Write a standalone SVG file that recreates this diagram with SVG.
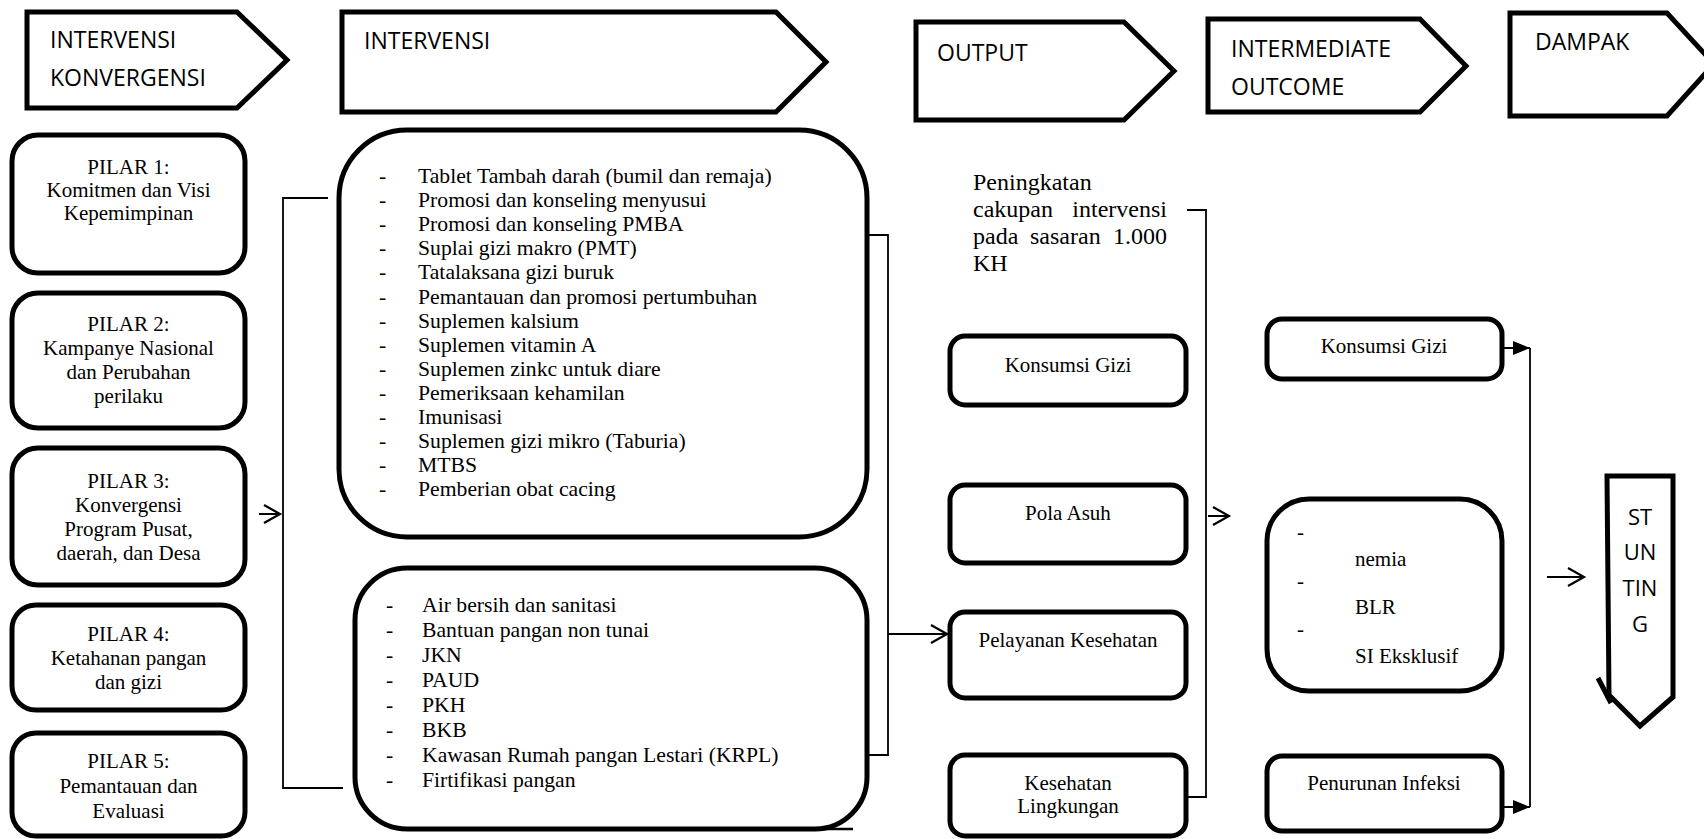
<svg xmlns="http://www.w3.org/2000/svg" width="1704" height="839" viewBox="0 0 1704 839">
<defs>
<style>
.hdr{fill:#fff;stroke:#000;stroke-width:5;stroke-linejoin:miter}
.box{fill:#fff;stroke:#000;stroke-width:5}
.ht{font-family:"Open Sans","Liberation Sans",sans-serif;font-size:23px;fill:#000}
.st{font-family:"Open Sans","Liberation Sans",sans-serif;font-size:22px;fill:#000;text-anchor:middle}
.t{font-family:"Liberation Serif","Times New Roman",serif;font-size:21px;fill:#000}
.l{font-family:"Liberation Serif","Times New Roman",serif;font-size:21.7px;fill:#000}
.c{text-anchor:middle}
.p{font-family:"Liberation Serif","Times New Roman",serif;font-size:24px;fill:#000}
.ln{fill:none;stroke:#000;stroke-width:1.8}
.ar{fill:none;stroke:#000;stroke-width:2}
</style>
<marker id="open" markerUnits="userSpaceOnUse" markerWidth="22" markerHeight="24" refX="19" refY="11" orient="auto">
<path d="M3,2 L19,11 L3,20" fill="none" stroke="#000" stroke-width="2.2"/>
</marker>
<marker id="fill" markerUnits="userSpaceOnUse" markerWidth="18" markerHeight="16" refX="17" refY="8" orient="auto">
<path d="M0,1 L17,8 L0,15 Z" fill="#000"/>
</marker>
</defs>

<g id="hdr-konvergensi">
<polygon class="hdr" points="27,12 237,12 287,60 237,108 27,108"/>
<text class="ht" x="50" y="48">INTERVENSI</text>
<text class="ht" x="50" y="86">KONVERGENSI</text>
</g>
<g id="hdr-intervensi">
<polygon class="hdr" points="342,12 776,12 826,62 776,112 342,112"/>
<text class="ht" x="364" y="49">INTERVENSI</text>
</g>
<g id="hdr-output">
<polygon class="hdr" points="916,22 1124,22 1174,71 1124,120 916,120"/>
<text class="ht" x="937" y="61">OUTPUT</text>
</g>
<g id="hdr-intermediate">
<polygon class="hdr" points="1208,19 1420,19 1466,66 1420,112 1208,112"/>
<text class="ht" x="1231" y="57">INTERMEDIATE</text>
<text class="ht" x="1231" y="95">OUTCOME</text>
</g>
<g id="hdr-dampak">
<polygon class="hdr" points="1510,13 1667,13 1714,64 1667,116 1510,116"/>
<text class="ht" x="1535" y="50">DAMPAK</text>
</g>

<g id="pilar1">
<rect class="box" x="12" y="135" width="233" height="138" rx="26"/>
<text class="t c" x="128.5" y="174">PILAR 1:</text>
<text class="t c" x="128.5" y="197">Komitmen dan Visi</text>
<text class="t c" x="128.5" y="220">Kepemimpinan</text>
</g>
<g id="pilar2">
<rect class="box" x="12" y="293" width="233" height="135" rx="26"/>
<text class="t c" x="128.5" y="331">PILAR 2:</text>
<text class="t c" x="128.5" y="355">Kampanye Nasional</text>
<text class="t c" x="128.5" y="379">dan Perubahan</text>
<text class="t c" x="128.5" y="403">perilaku</text>
</g>
<g id="pilar3">
<rect class="box" x="12" y="448" width="233" height="137" rx="26"/>
<text class="t c" x="128.5" y="488">PILAR 3:</text>
<text class="t c" x="128.5" y="512">Konvergensi</text>
<text class="t c" x="128.5" y="536">Program Pusat,</text>
<text class="t c" x="128.5" y="560">daerah, dan Desa</text>
</g>
<g id="pilar4">
<rect class="box" x="12" y="605" width="233" height="105" rx="24"/>
<text class="t c" x="128.5" y="641">PILAR 4:</text>
<text class="t c" x="128.5" y="665">Ketahanan pangan</text>
<text class="t c" x="128.5" y="689">dan gizi</text>
</g>
<g id="pilar5">
<rect class="box" x="12" y="733" width="233" height="103" rx="24"/>
<text class="t c" x="128.5" y="768">PILAR 5:</text>
<text class="t c" x="128.5" y="793">Pemantauan dan</text>
<text class="t c" x="128.5" y="818">Evaluasi</text>
</g>

<g id="intervensi-spesifik">
<rect class="box" x="339" y="130" width="528" height="407" rx="68"/>
<g class="l">
<text x="379" y="183">-</text><text x="418" y="183">Tablet Tambah darah (bumil dan remaja)</text>
<text x="379" y="207">-</text><text x="418" y="207">Promosi dan konseling menyusui</text>
<text x="379" y="231">-</text><text x="418" y="231">Promosi dan konseling PMBA</text>
<text x="379" y="255">-</text><text x="418" y="255">Suplai gizi makro (PMT)</text>
<text x="379" y="279">-</text><text x="418" y="279">Tatalaksana gizi buruk</text>
<text x="379" y="304">-</text><text x="418" y="304">Pemantauan dan promosi pertumbuhan</text>
<text x="379" y="328">-</text><text x="418" y="328">Suplemen kalsium</text>
<text x="379" y="352">-</text><text x="418" y="352">Suplemen vitamin A</text>
<text x="379" y="376">-</text><text x="418" y="376">Suplemen zinkc untuk diare</text>
<text x="379" y="400">-</text><text x="418" y="400">Pemeriksaan kehamilan</text>
<text x="379" y="424">-</text><text x="418" y="424">Imunisasi</text>
<text x="379" y="448">-</text><text x="418" y="448">Suplemen gizi mikro (Taburia)</text>
<text x="379" y="472">-</text><text x="418" y="472">MTBS</text>
<text x="379" y="496">-</text><text x="418" y="496">Pemberian obat cacing</text>
</g>
</g>

<g id="intervensi-sensitif">
<rect class="box" x="355" y="568" width="512" height="261" rx="52"/>
<line x1="800" y1="829" x2="853" y2="829" stroke="#000" stroke-width="2.5"/>
<g class="l">
<text x="386" y="612">-</text><text x="422" y="612">Air bersih dan sanitasi</text>
<text x="386" y="637">-</text><text x="422" y="637">Bantuan pangan non tunai</text>
<text x="386" y="662">-</text><text x="422" y="662">JKN</text>
<text x="386" y="687">-</text><text x="422" y="687">PAUD</text>
<text x="386" y="712">-</text><text x="422" y="712">PKH</text>
<text x="386" y="737">-</text><text x="422" y="737">BKB</text>
<text x="386" y="762">-</text><text x="422" y="762">Kawasan Rumah pangan Lestari (KRPL)</text>
<text x="386" y="787">-</text><text x="422" y="787">Firtifikasi pangan</text>
</g>
</g>

<g id="output-cakupan">
<text class="p" x="973" y="190">Peningkatan</text>
<text class="p" x="973" y="217">cakupan</text>
<text class="p" x="1167" y="217" text-anchor="end">intervensi</text>
<text class="p" x="973" y="244">pada</text>
<text class="p" x="1030" y="244">sasaran</text>
<text class="p" x="1167" y="244" text-anchor="end">1.000</text>
<text class="p" x="973" y="271">KH</text>
</g>

<g id="out-konsumsi">
<rect class="box" x="950" y="336" width="236" height="69" rx="15"/>
<text class="t c" x="1068" y="372">Konsumsi Gizi</text>
</g>
<g id="out-polaasuh">
<rect class="box" x="950" y="485" width="236" height="78" rx="15"/>
<text class="t c" x="1068" y="520">Pola Asuh</text>
</g>
<g id="out-pelayanan">
<rect class="box" x="950" y="612" width="236" height="86" rx="15"/>
<text class="t c" x="1068" y="647">Pelayanan Kesehatan</text>
</g>
<g id="out-lingkungan">
<rect class="box" x="950" y="755" width="236" height="81" rx="15"/>
<text class="t c" x="1068" y="790">Kesehatan</text>
<text class="t c" x="1068" y="813">Lingkungan</text>
</g>

<g id="im-konsumsi">
<rect class="box" x="1267" y="319" width="235" height="60" rx="15"/>
<text class="t c" x="1384" y="353">Konsumsi Gizi</text>
</g>
<g id="im-anemia">
<rect class="box" x="1267" y="499" width="235" height="192" rx="42"/>
<text class="t" x="1297" y="539">-</text>
<text class="t" x="1355" y="566">nemia</text>
<text class="t" x="1297" y="588">-</text>
<text class="t" x="1355" y="614">BLR</text>
<text class="t" x="1297" y="636">-</text>
<text class="t" x="1355" y="663">SI Eksklusif</text>
</g>
<g id="im-infeksi">
<rect class="box" x="1267" y="756" width="235" height="75" rx="15"/>
<text class="t c" x="1384" y="790">Penurunan Infeksi</text>
</g>

<g id="stunting">
<polygon class="hdr" points="1607,476 1673,476 1673,697 1640,726 1609,695"/>
<line x1="1598" y1="678" x2="1611" y2="703" stroke="#000" stroke-width="5"/>
<text class="st" x="1640" y="525">ST</text>
<text class="st" x="1640" y="560">UN</text>
<text class="st" x="1640" y="596">TIN</text>
<text class="st" x="1640" y="632">G</text>
</g>

<g id="connectors">
<polyline class="ln" points="328,198 283,198 283,788 343,788"/>
<line class="ar" x1="259" y1="514" x2="280" y2="514" marker-end="url(#open)"/>
<polyline class="ln" points="868,235 888,235 888,755 868,755"/>
<line class="ar" x1="888" y1="634" x2="947" y2="634" marker-end="url(#open)"/>
<polyline class="ln" points="1187,210 1206,210 1206,797 1187,797"/>
<line class="ar" x1="1208" y1="516" x2="1229" y2="516" marker-end="url(#open)"/>
<line class="ln" x1="1530" y1="348" x2="1530" y2="807"/>
<line class="ar" x1="1503" y1="348" x2="1530" y2="348" marker-end="url(#fill)"/>
<line class="ar" x1="1503" y1="807" x2="1530" y2="807" marker-end="url(#fill)"/>
<line class="ar" x1="1547" y1="577" x2="1584" y2="577" marker-end="url(#open)"/>
</g>
</svg>
